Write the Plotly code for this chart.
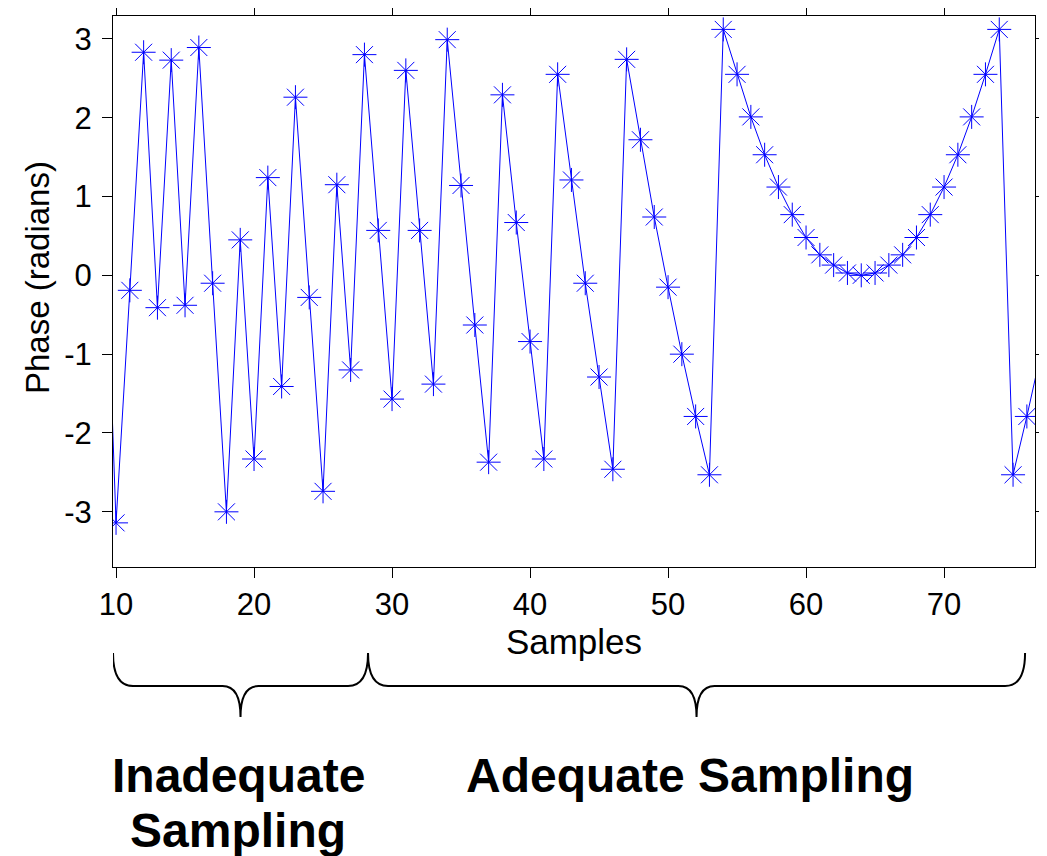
import plotly.graph_objects as go

# ---- data ----
samples = list(range(9, 78))
phase = [1.8,
         -3.14, -0.19, 2.83, -0.41, 2.73, -0.38, 2.89, -0.10, -3.00, 0.45,
         -2.33, 1.24, -1.41, 2.26, -0.28, -2.74, 1.15, -1.20, 2.80, 0.57,
         -1.57, 2.60, 0.57, -1.38, 2.99, 1.14, -0.63, -2.37, 2.29, 0.67,
         -0.84, -2.33, 2.55, 1.21, -0.10, -1.29, -2.46, 2.74, 1.72, 0.74,
         -0.15, -1.00, -1.79, -2.53, 3.12, 2.55, 2.01, 1.53, 1.12, 0.77,
         0.48, 0.26, 0.13, 0.03, 0.00, 0.03, 0.13, 0.26, 0.48, 0.77,
         1.12, 1.53, 2.01, 2.55, 3.12, -2.53, -1.79, -1.00]
x_ticks = [10, 20, 30, 40, 50, 60, 70]
y_ticks = [-3, -2, -1, 0, 1, 2, 3]
x_range = [9.78, 76.59]
y_range = [-3.70, 3.29]

# brace groups (data x spans)
brace_spans = [(9.78, 28.26), (28.26, 75.87)]

FONT = "Liberation Sans, Arial, sans-serif"
OFF = 8  # page body margin
W, H = 1047 - OFF, 856 - OFF
ML, MR, MT, MB = 113 - OFF, 12, 16 - OFF, 289
PH = H - MT - MB
PW = W - ML - MR

def py2paper(py):
    return (H - MB - (py - OFF)) / PH

def px2paper(px):
    return ((px - OFF) - ML) / PW

# markers only for samples inside the visible range
mk = [(s, p) for s, p in zip(samples, phase) if x_range[0] <= s <= x_range[1]]

fig = go.Figure()
fig.add_trace(go.Scatter(
    x=samples, y=phase, mode="lines",
    line=dict(color="#0000FF", width=1), showlegend=False))
fig.add_trace(go.Scatter(
    x=[m[0] for m in mk], y=[m[1] for m in mk], mode="markers",
    marker=dict(symbol="asterisk-open", size=20,
                line=dict(color="#0000FF", width=1), color="#0000FF"),
    showlegend=False))

# braces
yt, yh, ytip = py2paper(653), py2paper(686), py2paper(717)
r_end, r_tip = 1.45, 1.3
for xa, xb in brace_spans:
    xm = (xa + xb) / 2
    path = (f"M {xa},{yt} Q {xa},{yh} {xa + r_end},{yh} "
            f"L {xm - r_tip},{yh} Q {xm},{yh} {xm},{ytip} "
            f"Q {xm},{yh} {xm + r_tip},{yh} "
            f"L {xb - r_end},{yh} Q {xb},{yh} {xb},{yt}")
    fig.add_shape(type="path", path=path, xref="x", yref="paper",
                  line=dict(color="black", width=2))

lab_font = dict(family=FONT, size=48, color="black")
fig.add_annotation(text="<b>Inadequate</b>", x=px2paper(238), y=py2paper(775),
                   xref="paper", yref="paper", showarrow=False, font=lab_font,
                   xanchor="center", yanchor="middle")
fig.add_annotation(text="<b>Sampling</b>", x=px2paper(238), y=py2paper(830),
                   xref="paper", yref="paper", showarrow=False, font=lab_font,
                   xanchor="center", yanchor="middle")
fig.add_annotation(text="<b>Adequate Sampling</b>", x=px2paper(690), y=py2paper(775),
                   xref="paper", yref="paper", showarrow=False, font=lab_font,
                   xanchor="center", yanchor="middle")
# y axis title
fig.add_annotation(text="Phase (radians)", x=px2paper(37), y=py2paper(278),
                   xref="paper", yref="paper", showarrow=False, textangle=-90,
                   font=dict(family=FONT, size=33, color="black"),
                   xanchor="center", yanchor="middle")

axis_common = dict(showline=True, linecolor="black", linewidth=1, mirror="ticks",
                   ticks="outside", ticklen=10, tickwidth=1, tickcolor="black",
                   showgrid=False, zeroline=False,
                   tickfont=dict(family=FONT, size=31, color="black"))

fig.update_xaxes(range=x_range, tickvals=x_ticks, ticktext=[str(v) for v in x_ticks],
                 title=dict(text="Samples", font=dict(family=FONT, size=35, color="black"),
                            standoff=0),
                 **axis_common)
fig.update_yaxes(range=y_range, tickvals=y_ticks, ticktext=[str(v) for v in y_ticks],
                 ticklabelstandoff=4, **axis_common)

fig.update_layout(width=W, height=H, margin=dict(l=ML, r=MR, t=MT, b=MB, autoexpand=False),
                  plot_bgcolor="white", paper_bgcolor="white", font=dict(family=FONT))

fig.write_html("out.html")
